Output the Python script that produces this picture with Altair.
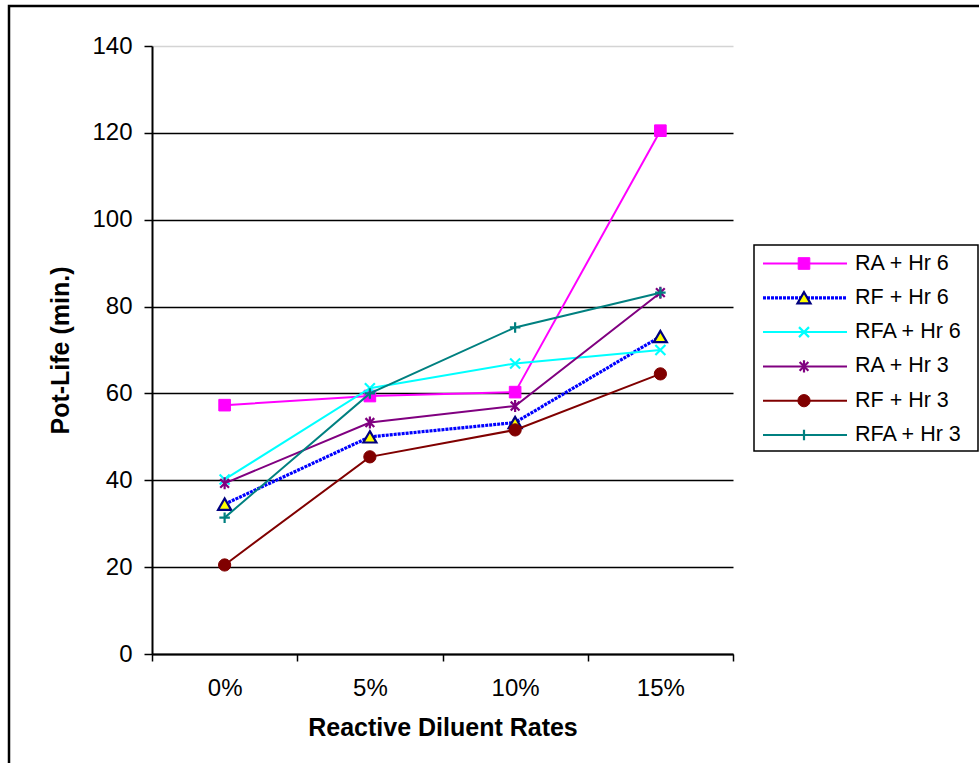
import altair as alt
import pandas as pd

# Reactive diluent rates on the x axis
rates = ["0%", "5%", "10%", "15%"]

# Series names, in legend order
series_names = ["RA + Hr 6", "RF + Hr 6", "RFA + Hr 6", "RA + Hr 3", "RF + Hr 3", "RFA + Hr 3"]

# Pot-life values (minutes) per series
ra_hr6 = [57.3, 59.4, 60.3, 120.5]
rf_hr6 = [34.5, 50.0, 53.3, 73.1]
rfa_hr6 = [40.2, 61.2, 66.9, 70.0]
ra_hr3 = [39.3, 53.3, 57.1, 83.2]
rf_hr3 = [20.5, 45.4, 51.6, 64.5]
rfa_hr3 = [31.4, 60.0, 75.2, 83.2]

y_ticks = [0, 20, 40, 60, 80, 100, 120, 140]

values = [ra_hr6, rf_hr6, rfa_hr6, ra_hr3, rf_hr3, rfa_hr3]

FONT = "Liberation Sans"

X_PATH = "M-1,-1L1,1M-1,1L1,-1"
STAR_PATH = "M-0.8,-0.8L0.8,0.8M-0.8,0.8L0.8,-0.8M0,-1.1L0,1.1"
PLUS_PATH = "M-1,0L1,0M0,-1L0,1"

styles = {
    "RA + Hr 6": dict(line=dict(color="#FF00FF", strokeWidth=2),
                      point=dict(shape="square", size=135, filled=True, fill="#FF00FF", stroke="#FF00FF", strokeWidth=1)),
    "RF + Hr 6": dict(line=dict(color="#0000FF", strokeWidth=3.2, strokeDash=[3, 1]),
                      point=dict(shape="triangle-up", size=170, filled=True, fill="#FFFF00", stroke="#000080", strokeWidth=2.2)),
    "RFA + Hr 6": dict(line=dict(color="#00FFFF", strokeWidth=2),
                       point=dict(shape=X_PATH, size=100, filled=False, stroke="#00FFFF", strokeWidth=2.2)),
    "RA + Hr 3": dict(line=dict(color="#800080", strokeWidth=2),
                      point=dict(shape=STAR_PATH, size=120, filled=False, stroke="#800080", strokeWidth=2.2)),
    "RF + Hr 3": dict(line=dict(color="#800000", strokeWidth=2),
                      point=dict(shape="circle", size=150, filled=True, fill="#800000", stroke="#800000", strokeWidth=1)),
    "RFA + Hr 3": dict(line=dict(color="#008080", strokeWidth=2),
                       point=dict(shape=PLUS_PATH, size=110, filled=False, stroke="#008080", strokeWidth=2.2)),
}

rows = []
for name, vals in zip(series_names, values):
    for r, v in zip(rates, vals):
        rows.append({"series": name, "rate": r, "minutes": v})
df = pd.DataFrame(rows)

x_enc = alt.X(
    "rate:N",
    sort=rates,
    bandPosition=0.5,
    scale=alt.Scale(type="band", domain=rates, paddingInner=0, paddingOuter=0),
    axis=alt.Axis(
        title="Reactive Diluent Rates",
        tickBand="extent",
        labelAngle=0,
        grid=False,
        domainColor="black",
        domainWidth=2,
        tickColor="black",
        tickWidth=1.5,
        tickSize=7,
        labelFontSize=24,
        labelPadding=15,
        labelColor="black",
        labelFont=FONT,
        titleFont=FONT,
        titleFontSize=25,
        titleFontWeight="bold",
        titleColor="black",
        titlePadding=15,
    ),
)

y_enc = alt.Y(
    "minutes:Q",
    scale=alt.Scale(domain=[0, 140], nice=False, zero=True),
    axis=alt.Axis(
        title="Pot-Life (min.)",
        values=y_ticks,
        grid=True,
        gridColor=alt.condition("datum.value == 140", alt.value("#d4d4d4"), alt.value("black")),
        gridWidth=1.6,
        domainColor="black",
        domainWidth=2,
        tickColor="black",
        tickWidth=1.5,
        tickSize=8,
        labelFontSize=24,
        labelPadding=12,
        labelColor="black",
        labelFont=FONT,
        titleFont=FONT,
        titleFontSize=25,
        titleFontWeight="bold",
        titleColor="black",
        titlePadding=18,
    ),
)

series_layers = []
for name in series_names:
    st = styles[name]
    base = alt.Chart(df).transform_filter(alt.datum.series == name)
    series_layers.append(base.mark_line(**st["line"]).encode(x=x_enc, y=y_enc))
    series_layers.append(base.mark_point(opacity=1, **st["point"]).encode(x=x_enc, y=y_enc))

plot = alt.layer(*series_layers)

# Legend box with one line + marker + label per series
one = pd.DataFrame({"k": [0]})
legend_df = pd.DataFrame({"series": series_names, "idx": list(range(len(series_names)))})

frame = alt.Chart(one).mark_rect(fillOpacity=0, stroke="black", strokeWidth=2.5).encode(
    x=alt.value(-143), x2=alt.value(834), y=alt.value(-40), y2=alt.value(726)
)
legend_box = alt.Chart(one).mark_rect(fill="white", stroke="black", strokeWidth=1.5).encode(
    x=alt.value(602), x2=alt.value(826), y=alt.value(199), y2=alt.value(405)
)

leg_y = alt.Y("idx:Q", scale=alt.Scale(domain=[0, 5], range=[217.5, 389], nice=False, zero=False), axis=None)

legend_layers = [frame, legend_box]
for name in series_names:
    st = styles[name]
    base = alt.Chart(legend_df).transform_filter(alt.datum.series == name)
    legend_layers.append(base.mark_rule(**st["line"]).encode(x=alt.value(611), x2=alt.value(695), y=leg_y))
    legend_layers.append(base.mark_point(opacity=1, **st["point"]).encode(x=alt.value(652), y=leg_y))
    legend_layers.append(
        base.mark_text(align="left", baseline="middle", font=FONT, fontSize=21.5, color="black").encode(
            x=alt.value(703), y=leg_y, text="series:N"
        )
    )

legend = alt.layer(*legend_layers)

chart = (
    alt.layer(plot, legend)
    .resolve_scale(y="independent")
    .properties(
        width=581,
        height=608,
        padding={"left": 152, "top": 46, "right": 246, "bottom": 109},
        autosize=alt.AutoSizeParams(type="none"),
        background="white",
    )
    .configure(font=FONT)
    .configure_view(strokeWidth=0)
)

chart.save("out.html", embed_options={"renderer": "svg", "actions": False})
